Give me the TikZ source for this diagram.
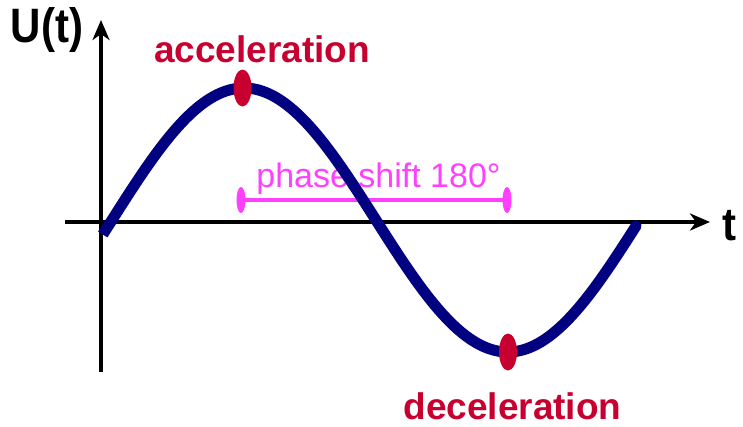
\documentclass[tikz,border=0pt]{standalone}
\usepackage{fontspec}
\setmainfont{Liberation Sans}
\usetikzlibrary{arrows.meta,shapes.geometric}
\definecolor{navyc}{RGB}{0,0,128}
\definecolor{redc}{RGB}{200,0,48}
\definecolor{pinkc}{RGB}{255,64,255}
\tikzset{
  axis/.style={line width=4pt,-{Stealth[length=20pt,width=17pt,inset=6pt]}},
  wave/.style={line width=11pt,navyc},
  reddot/.style={ellipse,fill=redc,minimum width=18pt,minimum height=37pt,inner sep=0pt},
  pinkdot/.style={ellipse,fill=pinkc,minimum width=9pt,minimum height=26pt,inner sep=0pt},
  pinkline/.style={line width=4pt,pinkc},
  redlabel/.style={text=redc,font=\bfseries\fontsize{37}{40}\selectfont,anchor=base,inner sep=0pt},
  pinklabel/.style={text=pinkc,font=\fontsize{34}{37}\selectfont,anchor=base,inner sep=0pt},
  axlabel/.style={text=black,font=\bfseries\fontsize{42}{46}\selectfont,anchor=base,inner sep=0pt}
}
\begin{document}
\begin{tikzpicture}[x=1pt,y=-1pt]
\useasboundingbox (0,0) rectangle (743,426);
% axes
\coordinate (ybot) at (101,372);
\coordinate (ytop) at (101,20);
\coordinate (xl) at (65,222);
\coordinate (xr) at (710,222);
\draw[axis] (ybot) -- (ytop);
\draw[axis] (xl) -- (xr);
\node[axlabel] (U) at (47,42) {\scalebox{1}[1.15]{U(t)}};
\node[axlabel] (T) at (729.5,240) {\scalebox{1}[1.1]{t}};
% phase shift
\node[pinkdot] (p1) at (241,200) {};
\node[pinkdot] (p2) at (507,200) {};
\draw[pinkline] (p1.center) -- (p2.center);
\node[pinklabel] (ps) at (378.5,187) {phase shift 180°};
% wave
\draw[wave,line cap=butt] plot[domain=-0.11:3.0,samples=60,smooth] ({112+84*\x},{220-132*sin(\x r)});
\draw[wave,line cap=round] plot[domain=3.0:6.24,samples=60,smooth] ({112+84*\x},{220-132*sin(\x r)});
% dots
\node[reddot] (acc) at (242.5,88) {};
\node[reddot] (dec) at (508,352) {};
\node[redlabel] (accl) at (262,62.5) {acceleration};
\node[redlabel] (decl) at (512.5,419) {deceleration};
\end{tikzpicture}
\end{document}
